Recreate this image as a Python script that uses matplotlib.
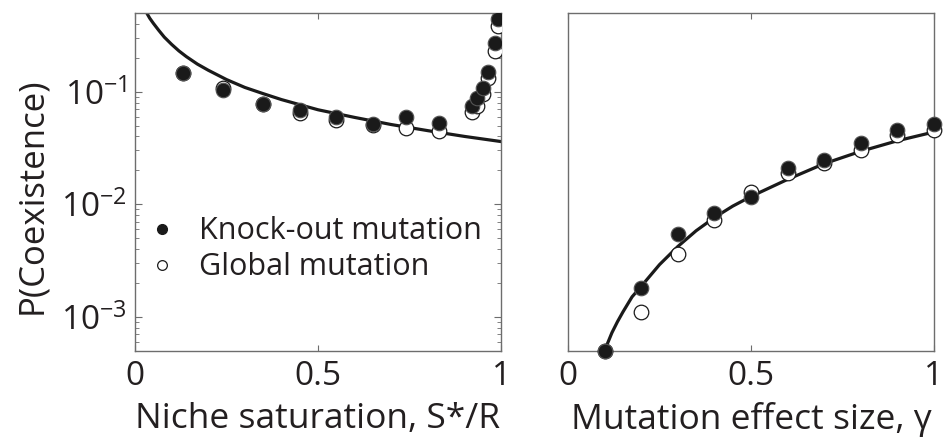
import numpy as np
import matplotlib.pyplot as plt
from matplotlib.lines import Line2D

# Left panel: niche saturation S*/R
sat_x = [0.13, 0.24, 0.35, 0.45, 0.55, 0.65, 0.74, 0.83, 0.92, 0.935, 0.95, 0.965, 0.983, 0.992]
sat_ko = [0.145, 0.104, 0.078, 0.068, 0.060, 0.052, 0.059, 0.053, 0.075, 0.087, 0.107, 0.15, 0.27, 0.44]
sat_gl = [0.145, 0.108, 0.078, 0.064, 0.056, 0.051, 0.048, 0.045, 0.066, 0.075, 0.096, 0.133, 0.23, 0.38]

# theory curve
sat_curve_x = [0.032, 0.04, 0.05, 0.065, 0.08, 0.1, 0.12, 0.14, 0.17, 0.2, 0.25, 0.3, 0.35, 0.4,
               0.5, 0.6, 0.7, 0.8, 0.9, 1.0]
sat_curve_y = [0.5, 0.45, 0.405, 0.35, 0.305, 0.263, 0.23, 0.205, 0.176, 0.155, 0.128, 0.109, 0.096,
               0.085, 0.069, 0.059, 0.051, 0.045, 0.040, 0.036]

# Right panel: mutation effect size gamma
gam_x = [0.1, 0.2, 0.3, 0.4, 0.5, 0.6, 0.7, 0.8, 0.9, 1.0]
gam_ko = [0.0005, 0.0018, 0.0054, 0.0084, 0.0116, 0.021, 0.0245, 0.035, 0.0455, 0.052]
gam_gl = [0.0005, 0.0011, 0.0036, 0.0073, 0.0127, 0.019, 0.023, 0.0305, 0.041, 0.046]

gam_curve_x = [0.1, 0.11, 0.12, 0.135, 0.15, 0.175, 0.2, 0.25, 0.3, 0.35, 0.4, 0.45, 0.5, 0.6,
               0.7, 0.8, 0.9, 1.0]
gam_curve_y = [0.0005, 0.0006, 0.00072, 0.0009, 0.0011, 0.0015, 0.00186, 0.0029, 0.0042, 0.0058,
               0.0076, 0.0096, 0.0117, 0.0166, 0.0229, 0.0295, 0.0366, 0.0438]

plt.rcParams['font.family'] = ['Open Sans', 'DejaVu Sans']
plt.rcParams['mathtext.fontset'] = 'custom'
plt.rcParams['mathtext.rm'] = 'Open Sans'
plt.rcParams['mathtext.it'] = 'Open Sans'

text_col = '#231f20'
spine_col = '#6d6d6d'

fig = plt.figure(figsize=(9.47, 4.41), dpi=100)
ax1 = fig.add_axes([0.1426, 0.2052, 0.3865, 0.7653])
ax2 = fig.add_axes([0.5998, 0.2052, 0.3865, 0.7653])

for ax in (ax1, ax2):
    ax.set_yscale('log')
    ax.set_ylim(5e-4, 0.5)
    ax.set_xlim(0, 1)
    ax.set_xticks([0, 0.5, 1])
    ax.set_xticklabels(['0', '0.5', '1'])
    for s in ax.spines.values():
        s.set_color(spine_col)
        s.set_linewidth(1.0)
    ax.tick_params(axis='x', which='both', direction='in', top=True, length=4,
                   color=spine_col, labelsize=24, labelcolor=text_col, pad=7)

ax1.tick_params(axis='y', which='major', direction='in', right=True, length=5,
                color=spine_col, labelsize=24, labelcolor=text_col, pad=6)
ax1.tick_params(axis='y', which='minor', direction='in', right=True, length=3,
                color=spine_col)
ax1.set_yticks([1e-3, 1e-2, 1e-1])
ax1.set_yticklabels(['10$^{-3}$', '10$^{-2}$', '10$^{-1}$'])

ax2.tick_params(axis='y', which='both', left=False, right=False, labelleft=False)

# left panel
ax1.plot(sat_curve_x, sat_curve_y, color='#1a1a1a', lw=2.3, zorder=2)
ax1.plot(sat_x, sat_gl, 'o', ms=10.5, mfc='white', mec='#1a1a1a', mew=0.9, zorder=3)
ax1.plot(sat_x, sat_ko, 'o', ms=10.5, mfc='#1a1a1a', mec='#555555', mew=0.8, zorder=4)

# right panel
ax2.plot(gam_curve_x, gam_curve_y, color='#1a1a1a', lw=2.3, zorder=2, clip_on=False)
ax2.plot(gam_x, gam_gl, 'o', ms=10.5, mfc='white', mec='#1a1a1a', mew=0.9, zorder=3, clip_on=False)
ax2.plot(gam_x, gam_ko, 'o', ms=10.5, mfc='#1a1a1a', mec='#555555', mew=0.8, zorder=4, clip_on=False)

ax1.set_xlabel('Niche saturation, S*/R', fontsize=25.5, color=text_col, labelpad=6)
ax1.set_ylabel('P(Coexistence)', fontsize=25, color=text_col)
ax1.yaxis.set_label_coords(-0.235, 0.46)
ax2.set_xlabel('Mutation effect size, γ', fontsize=25.5, color=text_col, labelpad=6)

handles = [
    Line2D([], [], ls='none', marker='o', ms=7, mfc='#1a1a1a', mec='#1a1a1a'),
    Line2D([], [], ls='none', marker='o', ms=7, mfc='white', mec='#1a1a1a', mew=0.9),
]
ax1.legend(handles, ['Knock-out mutation', 'Global mutation'], loc='center left',
           bbox_to_anchor=(-0.018, 0.3), frameon=False, fontsize=22, handlelength=1.0,
           handletextpad=0.7, labelspacing=0.2, labelcolor=text_col, borderaxespad=0.2)

fig.savefig('out.png', dpi=100)
